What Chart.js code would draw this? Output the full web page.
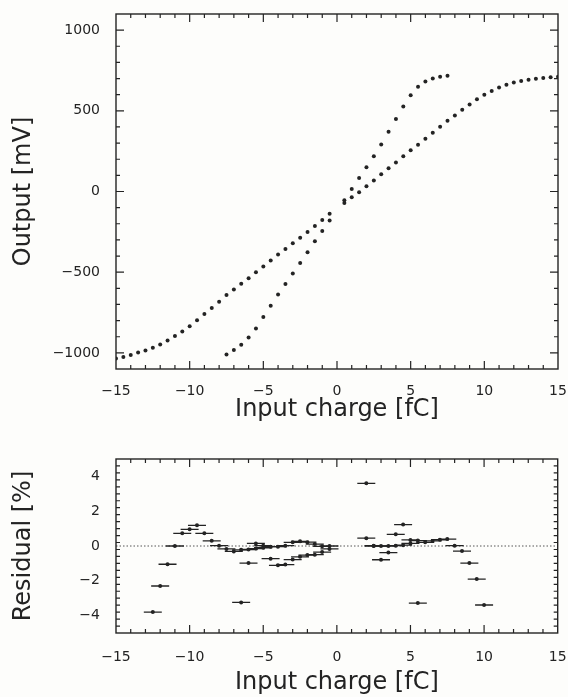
<!DOCTYPE html>
<html>
<head>
<meta charset="utf-8">
<script src="https://cdn.jsdelivr.net/npm/chart.js@4.4.1/dist/chart.umd.min.js"></script>
<style>
  html, body { margin: 0; padding: 0; background: #fff; }
  #wrap { position: relative; width: 568px; height: 697px; background: #fdfdfb; }
  #top-chart { position: absolute; left: 0; top: 0; }
  #res-chart { position: absolute; left: 0; top: 440px; }
</style>
</head>
<body>
<div id="wrap">
  <canvas id="top-chart" width="568" height="440"></canvas>
  <canvas id="res-chart" width="568" height="257"></canvas>
</div>
<script>
// Output vs input charge, two gain settings
const steepCharge = [-7.5, -7, -6.5, -6, -5.5, -5, -4.5, -4, -3.5, -3, -2.5, -2, -1.5, -1, -0.5,
  0.5, 1, 1.5, 2, 2.5, 3, 3.5, 4, 4.5, 5, 5.5, 6, 6.5, 7, 7.5];
const steepOutput = [-1010, -982, -950, -905, -849, -777, -708, -639, -574, -508, -443, -377, -309, -245, -179,
  -54, 15, 84, 150, 219, 292, 370, 449, 526, 597, 649, 681, 701, 711, 717];

const wideCharge = [-15, -14.5, -14, -13.5, -13, -12.5, -12, -11.5, -11, -10.5, -10, -9.5, -9, -8.5, -8,
  -7.5, -7, -6.5, -6, -5.5, -5, -4.5, -4, -3.5, -3, -2.5, -2, -1.5, -1, -0.5,
  0.5, 1, 1.5, 2, 2.5, 3, 3.5, 4, 4.5, 5, 5.5, 6, 6.5, 7, 7.5,
  8, 8.5, 9, 9.5, 10, 10.5, 11, 11.5, 12, 12.5, 13, 13.5, 14, 14.5, 15];
const wideOutput = [-1035, -1025, -1014, -998, -985, -969, -948, -923, -896, -867, -835, -798, -759, -722, -683,
  -642, -607, -572, -537, -501, -465, -428, -391, -356, -321, -286, -251, -214, -177, -138,
  -72, -35, -4, 33, 68, 107, 144, 179, 218, 255, 290, 327, 364, 401, 438,
  471, 506, 539, 572, 599, 623, 644, 662, 676, 685, 693, 698, 704, 708, 711];

// Residuals [%]
const wideResCharge = [-12.5, -12, -11.5, -11, -10.5, -10, -9.5, -9, -8.5, -8, -7.5, -7, -6.5, -6, -5.5,
  -5, -4.5, -4, -3.5, -3, -2.5, -2, -1.5, -1, -0.5,
  2, 2.5, 3, 3.5, 4, 4.5, 5, 5.5, 6, 6.5, 7, 7.5, 8, 8.5, 9, 9.5, 10];
const wideResidual = [-3.8, -2.3, -1.05, 0.0, 0.73, 0.96, 1.19, 0.73, 0.3, 0.02, -0.17, -0.31, -0.22, -0.2, -0.15,
  -0.1, -0.04, -0.04, 0.02, 0.21, 0.27, 0.22, 0.11, -0.02, 0.0,
  0.45, 0.0, 0.0, 0.0, 0.02, 0.05, 0.15, 0.31, 0.21, 0.29, 0.36, 0.4, 0.02, -0.29, -0.98, -1.9, -3.39];

const steepResCharge = [-6.5, -6, -5.5, -5, -4.5, -4, -3.5, -3, -2.5, -2, -1.5, -1, -0.5,
  2, 2.5, 3, 3.5, 4, 4.5, 5, 5.5];
const steepResidual = [-3.24, -0.98, 0.15, 0.02, -0.73, -1.11, -1.07, -0.78, -0.62, -0.52, -0.5, -0.35, -0.17,
  3.6, 0.02, -0.79, -0.38, 0.67, 1.23, 0.35, -3.28];

// Axis ranges and tick labels
const chargeRange = [-15, 15];
const outputRange = [-1100, 1100];
const residualRange = [-5, 5];
const chargeTicks = [-15, -10, -5, 0, 5, 10, 15];
const outputTicks = [-1000, -500, 0, 500, 1000];
const residualTicks = [-4, -2, 0, 2, 4];

const ink = '#232323';
Chart.defaults.font.family = "'DejaVu Sans', sans-serif";
Chart.defaults.color = ink;

const toPoints = (xs, ys) => xs.map((x, i) => ({ x: x, y: ys[i] }));
const fmt = (v) => v < 0 ? '\u2212' + Math.abs(v) : String(v);
const fixedTicks = (list) => (scale) => { scale.ticks = list.map((v) => ({ value: v })); };

// Frame with inward ticks on all four sides, positioned by the chart scales
function frameTicks(xr, xMinor, xMajor, yr, yMinor, yMajor) {
  return {
    id: 'frameTicks',
    afterDraw(chart) {
      const ctx = chart.ctx;
      const a = chart.chartArea;
      const xs = chart.scales.x;
      const ys = chart.scales.y;
      const isMajor = (v, step) => Math.abs(v / step - Math.round(v / step)) < 1e-6;
      ctx.save();
      ctx.setLineDash([]);
      ctx.strokeStyle = ink;
      ctx.lineWidth = 1.4;
      ctx.strokeRect(a.left, a.top, a.right - a.left, a.bottom - a.top);
      ctx.lineWidth = 1.2;
      const nx = Math.round((xr[1] - xr[0]) / xMinor);
      for (let i = 1; i < nx; i++) {
        const v = xr[0] + i * xMinor;
        const px = xs.getPixelForValue(v);
        const len = isMajor(v, xMajor) ? 8 : 4;
        ctx.beginPath();
        ctx.moveTo(px, a.bottom); ctx.lineTo(px, a.bottom - len);
        ctx.moveTo(px, a.top); ctx.lineTo(px, a.top + len);
        ctx.stroke();
      }
      const ny = Math.round((yr[1] - yr[0]) / yMinor);
      for (let i = 1; i < ny; i++) {
        const v = yr[0] + i * yMinor;
        const py = ys.getPixelForValue(v);
        const len = isMajor(v, yMajor) ? 8 : 4;
        ctx.beginPath();
        ctx.moveTo(a.left, py); ctx.lineTo(a.left + len, py);
        ctx.moveTo(a.right, py); ctx.lineTo(a.right - len, py);
        ctx.stroke();
      }
      ctx.restore();
    }
  };
}

function xAxis(tickPad, titlePad, height) {
  return {
    type: 'linear', min: chargeRange[0], max: chargeRange[1],
    grid: { display: false, drawTicks: false }, border: { display: false },
    afterBuildTicks: fixedTicks(chargeTicks),
    ticks: { padding: tickPad, font: { size: 14 }, callback: fmt, maxRotation: 0, autoSkip: false },
    title: { display: true, text: 'Input charge [fC]', font: { size: 24 }, padding: { top: 0, bottom: titlePad } },
    afterFit: (scale) => { scale.height = height; scale.paddingLeft = 0; scale.paddingRight = 0; }
  };
}

function yAxis(range, tickList, text) {
  return {
    type: 'linear', min: range[0], max: range[1],
    grid: { display: false, drawTicks: false }, border: { display: false },
    afterBuildTicks: fixedTicks(tickList),
    ticks: { padding: 16, font: { size: 14 }, callback: fmt, autoSkip: false },
    title: { display: true, text: text, font: { size: 24 }, padding: { top: 9, bottom: 0 } },
    afterFit: (scale) => { scale.width = 116; scale.paddingTop = 0; scale.paddingBottom = 0; }
  };
}

// Top panel: output
new Chart(document.getElementById('top-chart'), {
  type: 'scatter',
  data: {
    datasets: [
      { data: toPoints(steepCharge, steepOutput), pointRadius: 2, pointBorderWidth: 0, pointBackgroundColor: ink },
      { data: toPoints(wideCharge, wideOutput), pointRadius: 2, pointBorderWidth: 0, pointBackgroundColor: ink }
    ]
  },
  options: {
    responsive: false, animation: false,
    layout: { padding: { left: 0, right: 10, top: 14, bottom: 0 } },
    plugins: { legend: { display: false }, tooltip: { enabled: false } },
    scales: { x: xAxis(14, 16, 71), y: yAxis(outputRange, outputTicks, 'Output [mV]') }
  },
  plugins: [frameTicks(chargeRange, 1, 5, outputRange, 100, 500)]
});

// Bottom panel: residuals
const barStyle = { pointStyle: 'line', pointRadius: 9, pointBorderWidth: 1.3, pointBorderColor: ink };
const dotStyle = { pointRadius: 2, pointBorderWidth: 0, pointBackgroundColor: ink };
new Chart(document.getElementById('res-chart'), {
  type: 'scatter',
  data: {
    datasets: [
      Object.assign({ data: toPoints(wideResCharge, wideResidual) }, dotStyle),
      Object.assign({ data: toPoints(steepResCharge, steepResidual) }, dotStyle),
      Object.assign({ data: toPoints(wideResCharge, wideResidual) }, barStyle),
      Object.assign({ data: toPoints(steepResCharge, steepResidual) }, barStyle),
      { data: chargeRange.map((x) => ({ x: x, y: 0 })), showLine: true, pointRadius: 0,
        borderColor: '#555', borderWidth: 1, borderDash: [1.5, 2] }
    ]
  },
  options: {
    responsive: false, animation: false,
    layout: { padding: { left: 0, right: 10, top: 19, bottom: 0 } },
    plugins: { legend: { display: false }, tooltip: { enabled: false } },
    scales: { x: xAxis(16, 0, 64), y: yAxis(residualRange, residualTicks, 'Residual [%]') }
  },
  plugins: [frameTicks(chargeRange, 1, 5, residualRange, 0.4, 2)]
});
</script>
</body>
</html>
